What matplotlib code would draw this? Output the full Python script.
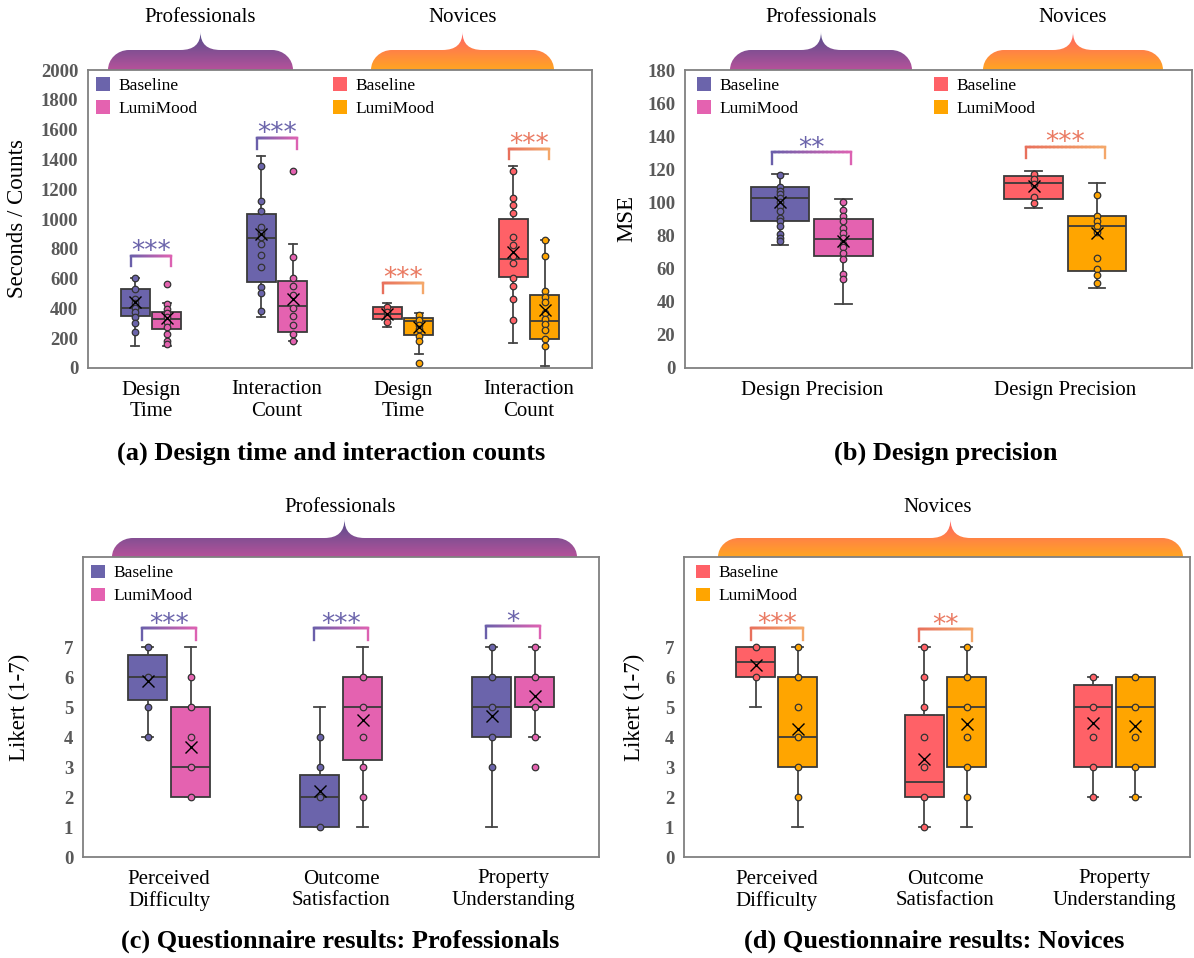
import numpy as np
import matplotlib
matplotlib.use("Agg")
import matplotlib.pyplot as plt
from matplotlib.patches import Patch, PathPatch
from matplotlib.path import Path
from matplotlib.collections import LineCollection
from matplotlib.colors import to_rgb

plt.rcParams['font.family'] = ['Liberation Serif', 'DejaVu Serif']

# ---------------- data ----------------
# box stats: [whisker low, Q1, median, Q3, whisker high, mean]
A_CATS = ["Design\nTime", "Interaction\nCount", "Design\nTime", "Interaction\nCount"]
A_GROUPS = ["Professionals", "Professionals", "Novices", "Novices"]
A_BASE_STATS = [[147, 349, 402, 529, 605, 442],
                [342, 576, 871, 1031, 1420, 898],
                [276, 327, 364, 407, 438, 360],
                [171, 609, 731, 998, 1358, 776]]
A_LUMI_STATS = [[147, 260, 327, 378, 436, 333],
                [182, 240, 416, 587, 831, 460],
                [91, 220, 313, 336, 369, 276],
                [16, 196, 318, 491, 860, 387]]
A_BASE_PTS = [[605, 527, 464, 436, 404, 376, 342, 304, 244],
              [1356, 1124, 1053, 947, 909, 876, 831, 760, 680, 542, 502, 382],
              [407, 376, 342, 307],
              [1324, 1142, 1093, 1042, 876, 827, 753, 702, 602, 549, 464, 324]]
A_LUMI_PTS = [[564, 431, 398, 369, 342, 309, 276, 231, 182, 164],
              [1320, 742, 604, 549, 493, 404, 347, 287, 231, 182],
              [353, 320, 291, 260, 216, 180, 33],
              [860, 753, 520, 476, 442, 369, 331, 293, 258, 193, 151]]
A_SIG = ["***", "***", "***", "***"]
A_SIG_Y = [753, 1542, 571, 1471]

B_CATS = ["Design Precision", "Design Precision"]
B_GROUPS = ["Professionals", "Novices"]
B_BASE_STATS = [[74.4, 88.7, 102.7, 109.4, 117.4, 100.3],
                [96.4, 101.9, 111.9, 115.9, 119.0, 110.2]]
B_LUMI_STATS = [[38.4, 67.5, 78.1, 90.3, 101.9, 76.9],
                [48.6, 58.4, 85.8, 92.0, 111.7, 81.4]]
B_BASE_PTS = [[116.5, 109.4, 107.2, 105.2, 102.7, 100.1, 97.6, 94.6, 90.9, 88.5, 85.8, 80.7, 78.7, 76.9],
              [117.0, 113.9, 111.3, 103.1, 99.7]]
B_LUMI_PTS = [[100.3, 95.6, 91.9, 88.5, 84.4, 81.4, 78.3, 75.1, 73.2, 69.2, 65.7, 57.0, 53.9],
              [104.6, 92.0, 88.9, 85.8, 82.4, 66.5, 60.0, 56.3, 51.5]]
B_SIG = ["**", "***"]
B_SIG_Y = [130.2, 133.7]

Q_CATS = ["Perceived\nDifficulty", "Outcome\nSatisfaction", "Property\nUnderstanding"]

C_GROUPS = ["Professionals"] * 3
C_BASE_STATS = [[4, 5.25, 6, 6.75, 7, 5.88],
                [1, 1, 2, 2.75, 5, 2.21],
                [1, 4, 5, 6, 7, 4.7]]
C_LUMI_STATS = [[2, 2, 3, 5, 7, 3.66],
                [1, 3.25, 5, 6, 7, 4.57],
                [4, 5, 5, 6, 7, 5.38]]
C_BASE_PTS = [[7, 6, 5, 4], [4, 3, 2, 1], [7, 6, 5, 4, 3]]
C_LUMI_PTS = [[6, 5, 4, 3, 2], [6, 5, 4, 3, 2], [7, 6, 5, 4, 3]]
C_SIG = ["***", "***", "*"]
C_SIG_Y = [7.64, 7.63, 7.70]

D_GROUPS = ["Novices"] * 3
D_BASE_STATS = [[5, 6, 6.5, 7, 7, 6.4],
                [1, 2, 2.5, 4.75, 7, 3.27],
                [2, 3, 5, 5.75, 6, 4.46]]
D_LUMI_STATS = [[1, 3, 4, 6, 7, 4.28],
                [1, 3, 5, 6, 7, 4.43],
                [2, 3, 5, 6, 6, 4.38]]
D_BASE_PTS = [[7, 6], [7, 6, 5, 4, 3, 2, 1], [6, 5, 4, 3, 2]]
D_LUMI_PTS = [[7, 6, 5, 4, 3, 2], [7, 6, 5, 4, 3, 2], [6, 5, 4, 3, 2]]
D_SIG = ["***", "**", ""]
D_SIG_Y = [7.62, 7.60, 0]

# ---------------- style ----------------
PALETTE = {
    "Professionals": dict(base="#6B64AB", lumi="#E462B0", br=("#6A5FAA", "#DC62B2"),
                          star="#6B64AB", brace=("#524D8C", "#B6529A")),
    "Novices": dict(base="#FF6167", lumi="#FFA500", br=("#E8705C", "#F4A76A"),
                    star="#EA7A62", brace=("#FF6168", "#FFA522")),
}
EDGE = "#3A3A3A"
SPINE = "#808080"
TICK_GRAY = "#595959"

W, H = 1194, 958
fig = plt.figure(figsize=(W / 100, H / 100), dpi=100)

# overlay in image-pixel coordinates for braces / titles
ov = fig.add_axes([0, 0, 1, 1])
ov.axis("off")


def px_axes(l, t, r, b):
    return fig.add_axes([l / W, 1 - b / H, (r - l) / W, (b - t) / H])


def brace(x0, x1, yb, yt, yp, cols, r=21, tw=20):
    xc = (x0 + x1) / 2
    k = 0.5523
    verts = [(x0, yb),
             (x0, yb - k * (yb - yt)), (x0 + r - k * r, yt), (x0 + r, yt),
             (xc - tw, yt),
             (xc, yt), (xc, yp),
             (xc, yt), (xc + tw, yt),
             (x1 - r, yt),
             (x1 - r + k * r, yt), (x1, yb - k * (yb - yt)), (x1, yb),
             (x0, yb)]
    codes = [Path.MOVETO, Path.CURVE4, Path.CURVE4, Path.CURVE4, Path.LINETO,
             Path.CURVE3, Path.CURVE3, Path.CURVE3, Path.CURVE3, Path.LINETO,
             Path.CURVE4, Path.CURVE4, Path.CURVE4, Path.CLOSEPOLY]
    patch = PathPatch(Path(verts, codes), facecolor="none", edgecolor="none")
    ov.add_patch(patch)
    t = np.linspace(0, 1, 64)[:, None]
    grad = (1 - t) * np.array(to_rgb(cols[0])) + t * np.array(to_rgb(cols[1]))
    im = ov.imshow(grad[:, None, :], extent=(x0, x1, yb, yp), origin="upper",
                   aspect="auto", interpolation="bilinear")
    im.set_clip_path(patch)


def bracket(ax, x1, x2, y, drop, cols, text, tcolor, star_dy):
    xs = np.linspace(x1, x2, 60)
    pts = [(x1, y - drop)] + [(x, y) for x in xs] + [(x2, y - drop)]
    pts = np.array(pts)
    segs = np.stack([pts[:-1], pts[1:]], axis=1)
    mid = (segs[:, 0, 0] + segs[:, 1, 0]) / 2
    t = ((mid - x1) / (x2 - x1))[:, None]
    c = (1 - t) * np.array(to_rgb(cols[0])) + t * np.array(to_rgb(cols[1]))
    ax.add_collection(LineCollection(segs, colors=c, linewidths=1.7,
                                     capstyle="projecting", zorder=5))
    ax.text((x1 + x2) / 2, y + star_dy, text, ha="center", va="center",
            color=tcolor, fontsize=19, family="DejaVu Sans", zorder=5)


def panel(ax, groups, base_stats, lumi_stats, base_pts, lumi_pts,
          sig, sig_y, drop, star_dy, off=0.125, width=0.23):
    for i, g in enumerate(groups):
        pal = PALETTE[g]
        for st, pts, dx, col in ((base_stats[i], base_pts[i], -off, pal["base"]),
                                 (lumi_stats[i], lumi_pts[i], off, pal["lumi"])):
            lo, q1, med, q3, hi, mean = st
            ax.bxp([dict(whislo=lo, q1=q1, med=med, q3=q3, whishi=hi, mean=mean, fliers=[])],
                   positions=[i + dx], widths=width, capwidths=0.065,
                   patch_artist=True, showmeans=True, showfliers=False, manage_ticks=False,
                   boxprops=dict(facecolor=col, edgecolor=EDGE, linewidth=1.3),
                   medianprops=dict(color=EDGE, linewidth=1.3),
                   whiskerprops=dict(color="#444444", linewidth=1.3),
                   capprops=dict(color="#444444", linewidth=1.3),
                   meanprops=dict(marker="x", markeredgecolor="black", markersize=8.5,
                                  markeredgewidth=1.0, zorder=4))
            ax.scatter(np.full(len(pts), i + dx), pts, s=22, facecolor=col,
                       edgecolor="#333333", linewidth=0.9, zorder=3)
        if sig[i]:
            bracket(ax, i - off - 0.03, i + off + 0.03, sig_y[i], drop,
                    pal["br"], sig[i], pal["star"], star_dy)


def style(ax, cats, yticks, ylabel, ylab_x):
    ax.set_xticks(range(len(cats)))
    ax.set_xticklabels(cats, fontsize=15, linespacing=1.15)
    ax.set_yticks(yticks)
    ax.tick_params(length=0)
    ax.tick_params(axis="x", pad=9)
    ax.tick_params(axis="y", pad=7)
    for lab in ax.get_yticklabels():
        lab.set_fontweight("bold")
        lab.set_color(TICK_GRAY)
        lab.set_fontsize(13.5)
    for sp in ax.spines.values():
        sp.set_color(SPINE)
        sp.set_linewidth(1.3)
    ax.set_ylabel(ylabel, fontsize=16.5)
    ax.yaxis.set_label_coords(ylab_x, 0.5)


def legend(ax, groups, x, y):
    handles, labels = [], []
    for g in groups:
        handles += [Patch(facecolor=PALETTE[g]["base"]), Patch(facecolor=PALETTE[g]["lumi"])]
        labels += ["Baseline", "LumiMood"]
    ax.legend(handles, labels, ncol=len(groups), loc="upper left", bbox_to_anchor=(x, y),
              frameon=False, fontsize=12.5, handlelength=0.8, handleheight=0.85,
              handletextpad=0.5, labelspacing=0.35, columnspacing=7.8,
              borderaxespad=0, borderpad=0)


# ---- (a)
ax_a = px_axes(88, 70, 592, 368)
panel(ax_a, A_GROUPS, A_BASE_STATS, A_LUMI_STATS, A_BASE_PTS, A_LUMI_PTS,
      A_SIG, A_SIG_Y, 70, 27)
ax_a.set_xlim(-0.5, 3.5)
ax_a.set_ylim(0, 2000)
style(ax_a, A_CATS, range(0, 2001, 200), "Seconds / Counts", -0.119)
legend(ax_a, ["Professionals", "Novices"], 0.016, 0.975)

# ---- (b)
ax_b = px_axes(685, 70, 1192, 368)
panel(ax_b, B_GROUPS, B_BASE_STATS, B_LUMI_STATS, B_BASE_PTS, B_LUMI_PTS,
      B_SIG, B_SIG_Y, 7, 2.0)
ax_b.set_xlim(-0.5, 1.5)
ax_b.set_ylim(0, 180)
style(ax_b, B_CATS, range(0, 181, 20), "MSE", -0.095)
legend(ax_b, ["Professionals", "Novices"], 0.024, 0.975)

# ---- (c)
ax_c = px_axes(83, 557, 599, 857)
panel(ax_c, C_GROUPS, C_BASE_STATS, C_LUMI_STATS, C_BASE_PTS, C_LUMI_PTS,
      C_SIG, C_SIG_Y, 0.4, 0.11)
ax_c.set_xlim(-0.5, 2.5)
ax_c.set_ylim(0, 10)
style(ax_c, Q_CATS, range(0, 8), "Likert (1-7)", -0.103)
legend(ax_c, ["Professionals"], 0.016, 0.975)

# ---- (d)
ax_d = px_axes(684, 557, 1190, 857)
panel(ax_d, D_GROUPS, D_BASE_STATS, D_LUMI_STATS, D_BASE_PTS, D_LUMI_PTS,
      D_SIG, D_SIG_Y, 0.4, 0.11)
ax_d.set_xlim(-0.55, 2.45)
ax_d.set_ylim(0, 10)
style(ax_d, Q_CATS, range(0, 8), "Likert (1-7)", -0.077)
legend(ax_d, ["Novices"], 0.024, 0.975)

# ---- braces, group labels, captions
brace(108, 293, 70, 50, 32, PALETTE["Professionals"]["brace"])
brace(371, 554, 70, 50, 32, PALETTE["Novices"]["brace"])
brace(730, 912, 70, 50, 32, PALETTE["Professionals"]["brace"])
brace(983, 1163, 70, 50, 32, PALETTE["Novices"]["brace"])
brace(112, 577, 557, 538, 519, PALETTE["Professionals"]["brace"])
brace(718, 1183, 557, 538, 519, PALETTE["Novices"]["brace"])

for x, y, s in [(200, 17, "Professionals"), (463, 17, "Novices"),
                (821, 17, "Professionals"), (1073, 17, "Novices"),
                (340, 507, "Professionals"), (938, 507, "Novices")]:
    ov.text(x, y, s, ha="center", va="center", fontsize=15)

for x, y, s in [(331, 453, "(a) Design time and interaction counts"),
                (946, 453, "(b) Design precision"),
                (340, 941, "(c) Questionnaire results: Professionals"),
                (934, 941, "(d) Questionnaire results: Novices")]:
    ov.text(x, y, s, ha="center", va="center", fontsize=19, fontweight="bold")

ov.set_xlim(0, W)
ov.set_ylim(H, 0)

fig.savefig("out.png", dpi=100)
